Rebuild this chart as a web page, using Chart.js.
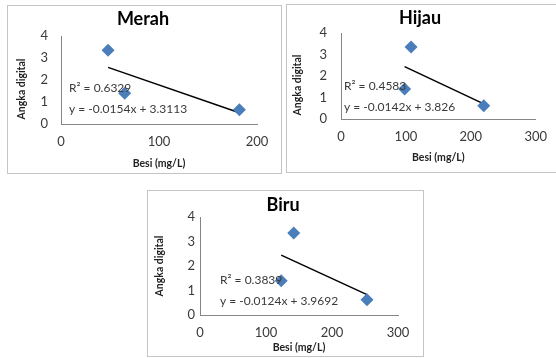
<!DOCTYPE html>
<html lang="id">
<head>
<meta charset="UTF-8">
<title>Besi vs Angka digital</title>
<script src="https://cdn.jsdelivr.net/npm/chart.js"></script>
<style>
  body { margin: 0; background: #fff; width: 556px; height: 358px; position: relative; overflow: hidden; }
  .panel { position: absolute; box-sizing: border-box; border: 1px solid #c4c4c4; background: #fff; }
  .panel canvas { display: block; }
</style>
</head>
<body>
<div class="panel" style="left:7px;top:5px;width:275px;height:169px"><canvas id="merah" width="273" height="167"></canvas></div>
<div class="panel" style="left:286px;top:4px;width:272px;height:169px"><canvas id="hijau" width="270" height="167"></canvas></div>
<div class="panel" style="left:147px;top:190px;width:277px;height:167px"><canvas id="biru" width="275" height="165"></canvas></div>

<script>
// data
const merahX = [48, 65, 182];
const merahY = [3.35, 1.4, 0.65];
const merahFit = [-0.0154, 3.3113];
const merahR2 = 0.6329;

const hijauX = [108, 98, 220];
const hijauY = [3.35, 1.4, 0.62];
const hijauFit = [-0.0142, 3.826];
const hijauR2 = 0.4583;

const biruX = [142, 123, 253];
const biruY = [3.35, 1.4, 0.62];
const biruFit = [-0.0124, 3.9692];
const biruR2 = 0.3839;

const yTicks = [0, 1, 2, 3, 4];
const FONT = 'Lato, "Open Sans", sans-serif';
const TXT = '#3a3a3a';

// chart title, R², equation and the y axis title
const panelText = {
  id: 'panelText',
  afterDraw(chart) {
    const o = chart.options.plugins.panelText;
    const ctx = chart.ctx;
    const a = chart.chartArea;
    ctx.save();
    ctx.textBaseline = 'middle';

    ctx.fillStyle = '#000';
    ctx.font = 'bold 18px ' + FONT;
    ctx.textAlign = 'center';
    ctx.fillText(o.title, o.tx, o.ty);

    ctx.fillStyle = TXT;
    ctx.font = '12px ' + FONT;
    ctx.textAlign = 'left';
    ctx.fillText('R\u00b2 = ' + o.r2, a.left + o.dx, o.r2y);
    ctx.fillText('y = ' + o.fit[0] + 'x + ' + o.fit[1], a.left + o.dx, o.eqy);

    ctx.fillStyle = '#222';
    ctx.translate(o.ytx, o.yty);
    ctx.rotate(-Math.PI / 2);
    ctx.font = 'bold 10.5px ' + FONT;
    ctx.textAlign = 'center';
    ctx.fillText('Angka digital', 0, 0);
    ctx.restore();
  }
};

function makeChart(id, title, xs, ys, fit, r2, xMax, lay) {
  const pts = xs.map((x, i) => ({ x: x, y: ys[i] }));
  const x0 = Math.min(...xs), x1 = Math.max(...xs);
  const trend = [x0, x1].map(x => ({ x: x, y: fit[0] * x + fit[1] }));

  new Chart(document.getElementById(id), {
    type: 'scatter',
    data: {
      datasets: [
        {
          data: pts,
          pointStyle: 'rectRot',
          pointRadius: 6.5,
          pointHoverRadius: 6.5,
          backgroundColor: '#4a7ebb',
          borderColor: '#4a7ebb',
          borderWidth: 0
        },
        {
          data: trend,
          showLine: true,
          pointRadius: 0,
          borderColor: '#000',
          borderWidth: 1.5
        }
      ]
    },
    options: {
      responsive: false,
      animation: false,
      events: [],
      layout: { padding: { left: 0, right: lay.padR, top: lay.padT, bottom: 0 } },
      plugins: {
        legend: { display: false },
        tooltip: { enabled: false },
        title: { display: false },
        panelText: {
          title: title, tx: lay.tx, ty: lay.ty,
          r2: r2, fit: fit, dx: lay.dx, r2y: lay.r2y, eqy: lay.eqy, ytx: lay.ytx, yty: lay.yty
        }
      },
      scales: {
        x: {
          type: 'linear',
          min: 0,
          max: xMax,
          afterFit: s => { s.height = lay.xH; },
          grid: { display: false, drawTicks: false },
          border: { display: true, color: '#868686', width: 1 },
          ticks: { stepSize: 100, padding: 10, color: TXT, font: { family: FONT, size: 13 } },
          title: {
            display: true,
            text: 'Besi (mg/L)',
            color: '#222',
            font: { family: FONT, size: 10.5, weight: 'bold' },
            padding: { top: 0, bottom: lay.xTitleB }
          }
        },
        y: {
          min: 0,
          max: 4,
          afterFit: s => { s.width = lay.yW; },
          afterBuildTicks: s => { s.ticks = yTicks.map(v => ({ value: v })); },
          grid: { display: false, drawTicks: false },
          border: { display: true, color: '#868686', width: 1 },
          ticks: { padding: lay.yPad, color: TXT, font: { family: FONT, size: 13 } }
        }
      }
    },
    plugins: [panelText]
  });
}

makeChart('merah', 'Merah', merahX, merahY, merahFit, merahR2, 200, {
  padR: 24, padT: 30, tx: 135, ty: 13, xH: 49, yW: 53, yPad: 13, xTitleB: 3,
  dx: 8, r2y: 82, eqy: 103, ytx: 14, yty: 83
});
makeChart('hijau', 'Hijau', hijauX, hijauY, hijauFit, hijauR2, 300, {
  padR: 20, padT: 28, tx: 133, ty: 13, xH: 53, yW: 54, yPad: 14, xTitleB: 8,
  dx: 3, r2y: 81, eqy: 102, ytx: 11, yty: 80
});
makeChart('biru', 'Biru', biruX, biruY, biruFit, biruR2, 300, {
  padR: 25, padT: 26, tx: 135, ty: 14, xH: 41, yW: 52, yPad: 5, xTitleB: 2,
  dx: 20, r2y: 89, eqy: 110, ytx: 12, yty: 75
});
</script>
</body>
</html>
